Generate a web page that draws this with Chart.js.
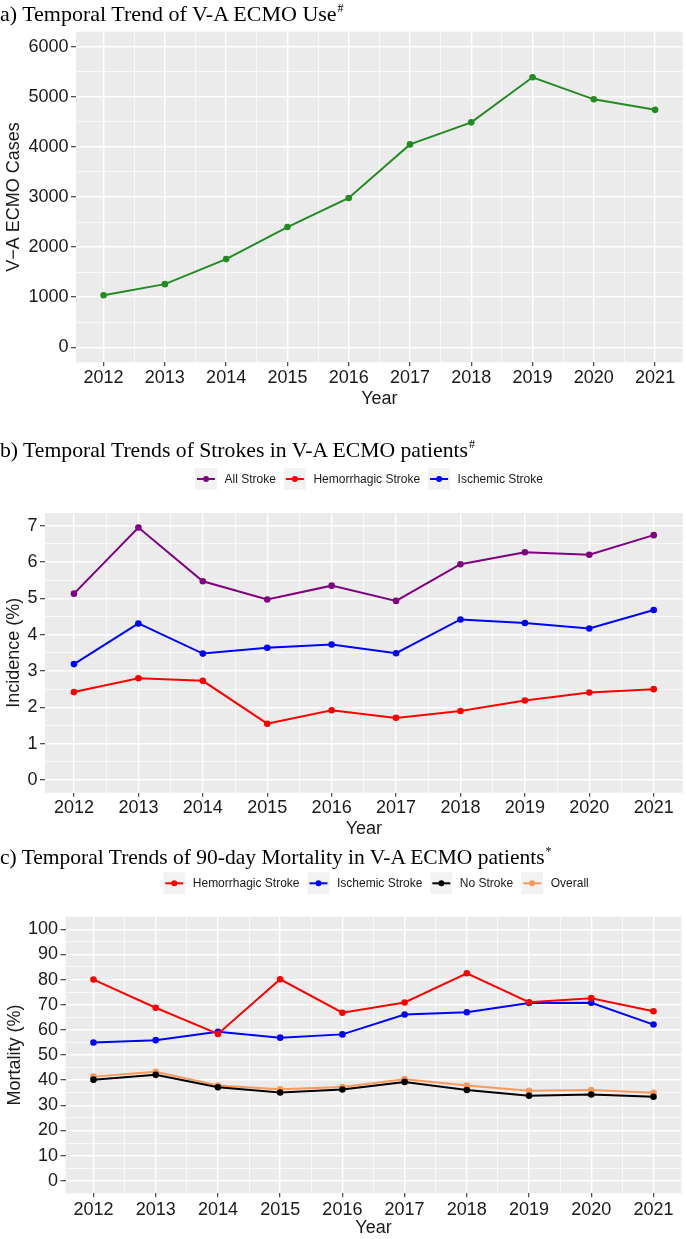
<!DOCTYPE html>
<html><head><meta charset="utf-8">
<script src="https://cdn.jsdelivr.net/npm/chart.js@4.4.0/dist/chart.umd.min.js"></script>
<style>
html,body{margin:0;padding:0;background:#fff;}
body{width:686px;height:1239px;position:relative;overflow:hidden;}
.ttl{position:absolute;left:0;font-family:"Liberation Serif","Times New Roman",serif;font-size:21.7px;line-height:21px;white-space:nowrap;color:#000;z-index:2;}
.ttl sup{font-size:12px;position:relative;top:-9px;vertical-align:baseline;line-height:0;margin-left:1px;}
.cv{position:absolute;left:0;width:686px;}
</style></head>
<body>
<div class="ttl" style="top:2.6px;font-size:22px">a) Temporal Trend of V-A ECMO Use<sup>#</sup></div>
<div class="ttl" style="top:440.4px">b) Temporal Trends of Strokes in V-A ECMO patients<sup>#</sup></div>
<div class="ttl" style="top:847.1px;font-size:21.5px">c) Temporal Trends of 90-day Mortality in V-A ECMO patients<sup>*</sup></div>
<div class="cv" style="top:0;height:420px"><canvas id="ca"></canvas></div>
<div class="cv" style="top:420px;height:420px"><canvas id="cb"></canvas></div>
<div class="cv" style="top:840px;height:399px"><canvas id="cc"></canvas></div>
<script>
// ---------- data ----------
const years = [2012, 2013, 2014, 2015, 2016, 2017, 2018, 2019, 2020, 2021];

// a) V-A ECMO cases
const ecmoCases = [1040, 1260, 1760, 2400, 2980, 4050, 4490, 5390, 4950, 4740];
const yTicksA = [0, 1000, 2000, 3000, 4000, 5000, 6000];

// b) stroke incidence (%)
const allStrokeInc = [5.13, 6.95, 5.47, 4.97, 5.35, 4.93, 5.94, 6.27, 6.20, 6.74];
const hemStrokeInc = [2.42, 2.80, 2.73, 1.55, 1.92, 1.71, 1.90, 2.19, 2.41, 2.50];
const ischStrokeInc = [3.19, 4.31, 3.48, 3.64, 3.73, 3.49, 4.42, 4.32, 4.17, 4.68];
const yTicksB = [0, 1, 2, 3, 4, 5, 6, 7];

// c) 90-day mortality (%)
const hemMort = [80.0, 68.8, 58.4, 80.1, 66.8, 70.9, 82.5, 71.0, 72.6, 67.4];
const ischMort = [55.0, 55.9, 59.2, 56.9, 58.2, 66.1, 67.0, 70.7, 70.8, 62.1];
const noStrokeMort = [40.2, 42.1, 37.2, 35.1, 36.3, 39.3, 36.1, 33.8, 34.3, 33.4];
const overallMort = [41.4, 43.3, 37.9, 36.4, 37.3, 40.4, 37.9, 35.8, 36.1, 35.0];
const yTicksC = [0, 10, 20, 30, 40, 50, 60, 70, 80, 90, 100];

// ---------- helpers ----------
const SANS = '"Liberation Sans", Arial, Helvetica, sans-serif';
const TXT = '#1a1a1a';
Chart.defaults.font.family = SANS;
Chart.defaults.animation = false;

function withMinor(arr) {
  const out = [];
  for (let i = 0; i < arr.length; i++) {
    out.push(arr[i]);
    if (i < arr.length - 1) out.push((arr[i] + arr[i + 1]) / 2);
  }
  return out;
}
function isMajor(arr, v) { return arr.some(a => Math.abs(a - v) < 1e-9); }

function gridOpts(arr, tl) {
  return {
    color: '#ffffff',
    lineWidth: c => isMajor(arr, c.tick.value) ? 1.4 : 0.7,
    tickColor: c => isMajor(arr, c.tick.value) ? '#333333' : 'rgba(0,0,0,0)',
    tickLength: tl,
    tickWidth: 1.1,
    drawTicks: true
  };
}

function xAxis(height, titlePadBottom, tickPad) {
  return {
    type: 'linear', min: 2011.55, max: 2021.45,
    afterBuildTicks: s => { s.ticks = withMinor(years).map(v => ({value: v})); },
    afterFit: s => { s.height = height; },
    ticks: {
      autoSkip: false, maxRotation: 0, minRotation: 0, padding: tickPad,
      font: {size: 18}, color: TXT,
      callback: v => isMajor(years, v) ? String(v) : ''
    },
    grid: gridOpts(years, 4),
    border: {display: false},
    title: {display: true, text: 'Year', font: {size: 18}, color: TXT, padding: {top: 0, bottom: titlePadBottom}}
  };
}

function yAxis(ticksArr, min, max, width, title, titlePadTop) {
  return {
    type: 'linear', min: min, max: max,
    afterBuildTicks: s => { s.ticks = withMinor(ticksArr).map(v => ({value: v})); },
    afterFit: s => { s.width = width; },
    ticks: {
      autoSkip: false, padding: 2.5,
      font: {size: 18}, color: TXT,
      callback: v => isMajor(ticksArr, v) ? String(v) : ''
    },
    grid: gridOpts(ticksArr, 5),
    border: {display: false},
    title: {display: true, text: title, font: {size: 18}, color: TXT, padding: {top: titlePadTop, bottom: 0}}
  };
}

const panelBg = {
  id: 'panelBg',
  beforeDraw(chart) {
    const a = chart.chartArea, ctx = chart.ctx;
    ctx.save();
    ctx.fillStyle = '#EBEBEB';
    ctx.fillRect(a.left, a.top, a.right - a.left, a.bottom - a.top);
    ctx.restore();
  }
};

const ggLegend = {
  id: 'ggLegend',
  afterDraw(chart, args, opts) {
    if (!opts || !opts.show) return;
    const ctx = chart.ctx;
    ctx.save();
    ctx.font = '12px ' + SANS;
    const keyW = 22, gapKT = 7.5, gapItem = 8;
    const items = chart.data.datasets.map(d => ({label: d.label, color: d.borderColor, w: ctx.measureText(d.label).width}));
    let total = 0;
    items.forEach((it, i) => { total += keyW + gapKT + it.w + (i < items.length - 1 ? gapItem : 0); });
    let x = opts.centerX - total / 2;
    const y = opts.y;
    items.forEach(it => {
      ctx.fillStyle = '#F2F2F2';
      ctx.fillRect(x, y - 11, keyW, 22);
      ctx.strokeStyle = it.color;
      ctx.lineWidth = 2;
      ctx.beginPath(); ctx.moveTo(x + 2, y); ctx.lineTo(x + keyW - 2, y); ctx.stroke();
      ctx.fillStyle = it.color;
      ctx.beginPath(); ctx.arc(x + keyW / 2, y, 3, 0, Math.PI * 2); ctx.fill();
      ctx.fillStyle = TXT;
      ctx.textBaseline = 'middle';
      ctx.textAlign = 'left';
      ctx.fillText(it.label, x + keyW + gapKT, y + 0.5);
      x += keyW + gapKT + it.w + gapItem;
    });
    ctx.restore();
  }
};

function ds(label, data, color) {
  return {
    label: label, data: data.map((v, i) => ({x: years[i], y: v})),
    borderColor: color, backgroundColor: color,
    borderWidth: 2, pointRadius: 3.3, pointBorderWidth: 0, pointHoverRadius: 3.3,
    tension: 0, fill: false
  };
}

function make(id, datasets, x, y, padding, legend) {
  return new Chart(document.getElementById(id), {
    type: 'line',
    data: {datasets: datasets},
    options: {
      responsive: true, maintainAspectRatio: false, animation: false,
      layout: {padding: padding},
      scales: {x: x, y: y},
      plugins: {legend: {display: false}, tooltip: {enabled: false}, ggLegend: legend || {show: false}}
    },
    plugins: [panelBg, ggLegend]
  });
}

// a)
make('ca',
  [ds('V-A ECMO Cases', ecmoCases, '#228B22')],
  xAxis(57.7, 10, 0.5),
  yAxis(yTicksA, -300, 6300, 76, 'V\u2212A ECMO Cases', 3.7),
  {left: 0, right: 1.5, top: 31.7, bottom: 0});

// b)
make('cb',
  [ds('All Stroke', allStrokeInc, '#800080'),
   ds('Hemorrhagic Stroke', hemStrokeInc, '#FF0000'),
   ds('Ischemic Stroke', ischStrokeInc, '#0000FF')],
  xAxis(47.3, 0.5, 1),
  yAxis(yTicksB, -0.35, 7.35, 45, 'Incidence (%)', 3.2),
  {left: 0, right: 1.6, top: 93, bottom: 0},
  {show: true, centerX: 369, y: 59});

// c)
make('cc',
  [ds('Hemorrhagic Stroke', hemMort, '#FF0000'),
   ds('Ischemic Stroke', ischMort, '#0000FF'),
   ds('No Stroke', noStrokeMort, '#000000'),
   ds('Overall', overallMort, '#F79A5C')],
  xAxis(45.7, 0, 1.5),
  yAxis(yTicksC, -5, 105, 65.5, 'Mortality (%)', 4.2),
  {left: 0, right: 4.5, top: 76.7, bottom: 0},
  {show: true, centerX: 376, y: 43.3});
</script>
</body></html>
